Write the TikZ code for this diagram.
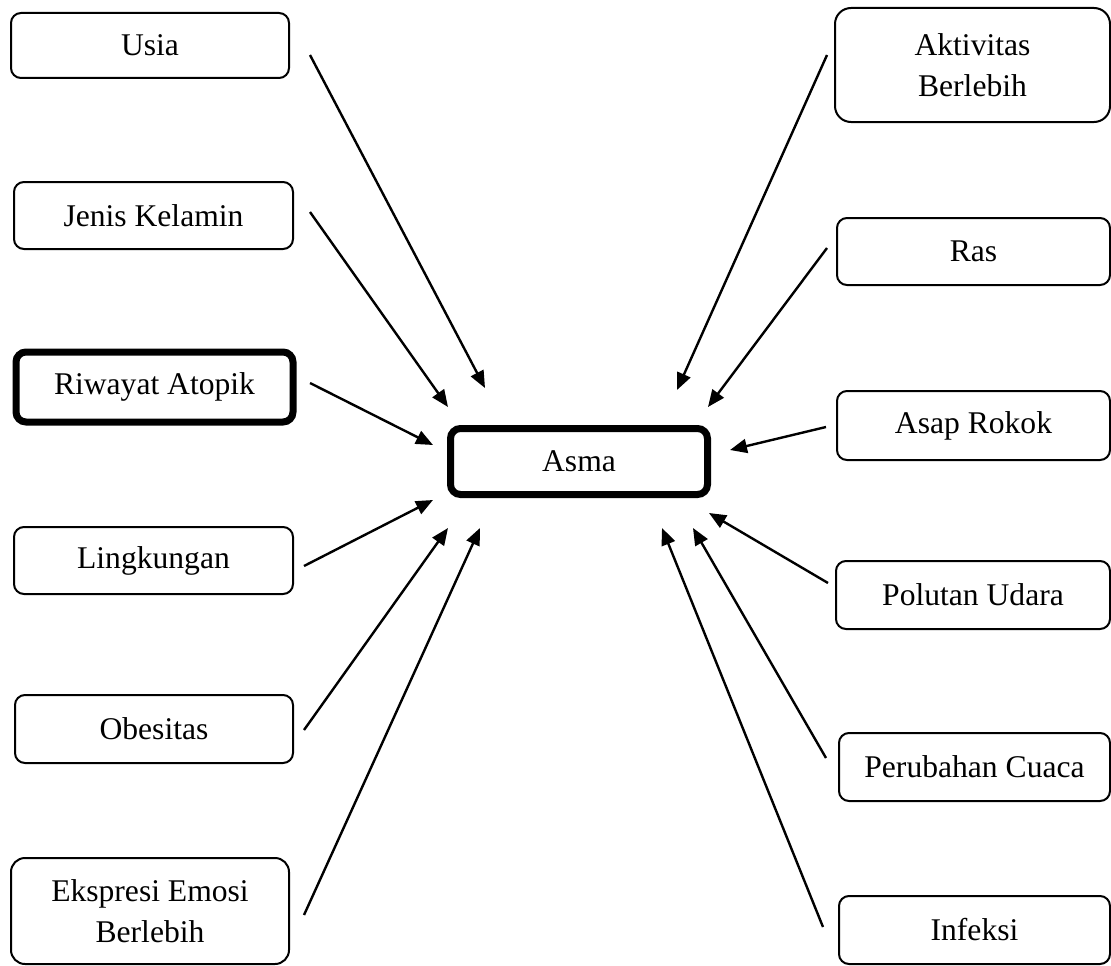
\documentclass[tikz,border=0pt]{standalone}
\usepackage{fontspec}
\setmainfont{Liberation Serif}
\usetikzlibrary{arrows.meta}
\tikzset{
  factor/.style={draw=black, line width=2pt, rounded corners=10pt, inner sep=0pt,
    align=center, font=\fontsize{31.6}{41}\selectfont},
  keybox/.style={factor, line width=7pt},
  link/.style={line width=2.4pt, -{Triangle[length=17pt,width=14pt]}},
}
\begin{document}
\begin{tikzpicture}[x=1pt,y=-1pt]
\useasboundingbox (0,0) rectangle (1111,966);
% centre node
\node[keybox, minimum width=257pt, minimum height=66pt] (asma) at (579,461.5) {Asma};
% left boxes
\node[factor, minimum width=278pt, minimum height=65pt] (usia) at (150,45.5) {Usia};
\node[factor, minimum width=279pt, minimum height=67pt] (jenis) at (153.5,215.5) {Jenis Kelamin};
\node[keybox, minimum width=277pt, minimum height=70pt] (riwayat) at (154.5,387) {Riwayat Atopik};
\node[factor, minimum width=279pt, minimum height=67pt] (lingk) at (153.5,560.5) {Lingkungan};
\node[factor, minimum width=278pt, minimum height=68pt] (obes) at (154,729) {Obesitas};
\node[factor, minimum width=278pt, minimum height=106pt, rounded corners=14pt] (ekspresi) at (150,911) {Ekspresi Emosi\\Berlebih};
% right boxes
\node[factor, minimum width=275pt, minimum height=114pt, rounded corners=16pt] (aktiv) at (972.5,65) {Aktivitas\\Berlebih};
\node[factor, minimum width=273pt, minimum height=67pt] (ras) at (973.5,251.5) {Ras};
\node[factor, minimum width=273pt, minimum height=69pt] (asap) at (973.5,425.5) {Asap Rokok};
\node[factor, minimum width=274pt, minimum height=68pt] (polutan) at (973,595) {Polutan Udara};
\node[factor, minimum width=271pt, minimum height=68pt] (cuaca) at (974.5,767) {Perubahan Cuaca};
\node[factor, minimum width=271pt, minimum height=68pt] (infeksi) at (974.5,930) {Infeksi};
% connector end points
\coordinate (usia-s) at (310,55);      \coordinate (usia-e) at (485,388);
\coordinate (jenis-s) at (310,212);    \coordinate (jenis-e) at (448,407);
\coordinate (riwayat-s) at (310,383);  \coordinate (riwayat-e) at (433,445);
\coordinate (lingk-s) at (304,566);    \coordinate (lingk-e) at (433,500);
\coordinate (obes-s) at (304,730);     \coordinate (obes-e) at (448,528);
\coordinate (ekspresi-s) at (304,915); \coordinate (ekspresi-e) at (480,528);
\coordinate (aktiv-s) at (827,55);     \coordinate (aktiv-e) at (677,390);
\coordinate (ras-s) at (827,248);      \coordinate (ras-e) at (708,407);
\coordinate (asap-s) at (826,427);     \coordinate (asap-e) at (730,450);
\coordinate (polutan-s) at (828,583);  \coordinate (polutan-e) at (709,513);
\coordinate (cuaca-s) at (826,758);    \coordinate (cuaca-e) at (693,528);
\coordinate (infeksi-s) at (823,927);  \coordinate (infeksi-e) at (662,528);
% connectors
\foreach \n in {usia,jenis,riwayat,lingk,obes,ekspresi,aktiv,ras,asap,polutan,cuaca,infeksi}
  \draw[link] (\n-s) -- (\n-e);
\end{tikzpicture}
\end{document}
